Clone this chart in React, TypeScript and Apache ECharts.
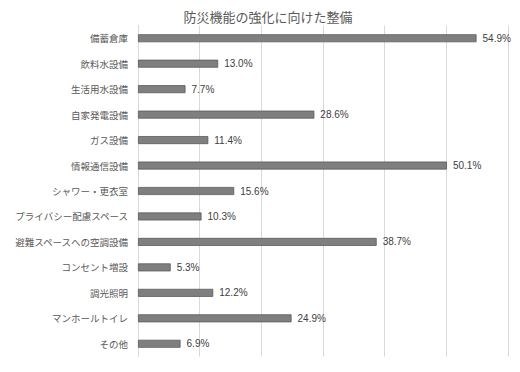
import React, { useEffect, useRef } from "react";
import * as echarts from "echarts";

const title = "防災機能の強化に向けた整備";
const categories = [
  "備蓄倉庫",
  "飲料水設備",
  "生活用水設備",
  "自家発電設備",
  "ガス設備",
  "情報通信設備",
  "シャワー・更衣室",
  "プライバシー配慮スペース",
  "避難スペースへの空調設備",
  "コンセント増設",
  "調光照明",
  "マンホールトイレ",
  "その他",
];
const values = [54.9, 13.0, 7.7, 28.6, 11.4, 50.1, 15.6, 10.3, 38.7, 5.3, 12.2, 24.9, 6.9];

const FONT = "'Noto Sans CJK JP', 'Noto Sans', sans-serif";

export default function App() {
  const ref = useRef<HTMLDivElement>(null);
  useEffect(() => {
    if (!ref.current) return;
    const chart = echarts.init(ref.current, undefined, { renderer: "svg" });
    chart.setOption({
      animation: false,
      backgroundColor: "#ffffff",
      title: {
        text: title,
        left: 263,
        textAlign: "center",
        top: 5,
        textStyle: { fontFamily: FONT, fontSize: 13, fontWeight: "normal", color: "#595959" },
      },
      grid: { left: 138, right: 12, top: 25.5, bottom: 15.5, containLabel: false },
      xAxis: {
        type: "value",
        min: 0,
        max: 60,
        interval: 10,
        axisLabel: { show: false },
        axisLine: { show: false },
        axisTick: { show: false },
        splitLine: { show: true, lineStyle: { color: "#d9d9d9", width: 1 } },
      },
      yAxis: {
        type: "category",
        data: categories,
        inverse: true,
        axisTick: { show: false },
        axisLine: { show: true, lineStyle: { color: "#d9d9d9", width: 1 } },
        axisLabel: {
          fontFamily: FONT,
          fontSize: 9.5,
          color: "#595959",
          margin: 10,
        },
      },
      series: [
        {
          type: "bar",
          data: values,
          barWidth: 8,
          itemStyle: { color: "#7f7f7f", borderColor: "#5a5a5a", borderWidth: 0.8 },
          label: {
            show: true,
            position: "right",
            distance: 6,
            formatter: (p: any) => Number(p.value).toFixed(1) + "%",
            fontFamily: "'Liberation Sans', Arial, sans-serif",
            fontSize: 10,
            color: "#404040",
          },
        },
      ],
    });
    return () => chart.dispose();
  }, []);
  return <div ref={ref} style={{ width: 520, height: 372, position: "absolute", left: 0, top: 0 }} />;
}
